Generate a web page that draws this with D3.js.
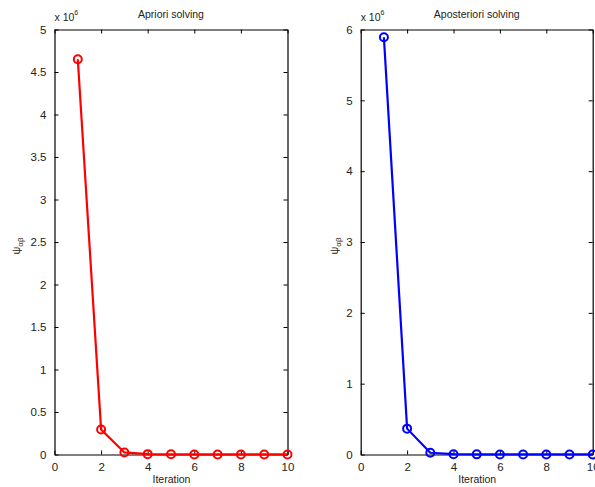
<!DOCTYPE html>
<html>
<head>
<meta charset="utf-8">
<script src="https://cdn.jsdelivr.net/npm/d3@7"></script>
<style>
  html, body { margin: 0; padding: 0; background: #fff; }
  svg { display: block; }
  text { font-family: "Liberation Sans", Arial, sans-serif; fill: #222; }
</style>
</head>
<body>
<svg id="chart" width="595" height="487"></svg>
<script>
// Iteration numbers shared by both panels
const iterations = [1, 2, 3, 4, 5, 6, 7, 8, 9, 10];
// Cost values per iteration (in units of 1e6)
const aprioriValues = [4.65, 0.295, 0.024, 0.004, 0.002, 0.001, 0.001, 0.001, 0.001, 0.001];
const aposterioriValues = [5.89, 0.365, 0.024, 0.004, 0.002, 0.001, 0.001, 0.001, 0.001, 0.001];
// Tick labels
const xTicks = [0, 2, 4, 6, 8, 10];
const aprioriYTicks = [0, 0.5, 1, 1.5, 2, 2.5, 3, 3.5, 4, 4.5, 5];
const aposterioriYTicks = [0, 1, 2, 3, 4, 5, 6];
const titles = ["Apriori solving", "Aposteriori solving"];

const svg = d3.select("#chart");

const panels = [
  { left: 54.5, right: 287.5, values: aprioriValues, yMax: 5, yTicks: aprioriYTicks, color: "#ff0000", title: titles[0], labelX: 20 },
  { left: 360.7, right: 592.7, values: aposterioriValues, yMax: 6, yTicks: aposterioriYTicks, color: "#0000ff", title: titles[1], labelX: 338 }
];
const plotTop = 29.5, plotBottom = 454.5, tickLen = 4;

panels.forEach(p => {
  const x = d3.scaleLinear().domain([0, 10]).range([p.left, p.right]);
  const y = d3.scaleLinear().domain([0, p.yMax]).range([plotBottom, plotTop]);
  const g = svg.append("g");

  // Axes: bottom/left labelled, top/right with inward ticks only
  const fmt = d => String(d);
  const bottomAxis = g.append("g").attr("transform", `translate(0,${plotBottom})`)
    .call(d3.axisBottom(x).tickValues(xTicks).tickFormat(fmt).tickSizeInner(-tickLen).tickSizeOuter(0).tickPadding(8));
  const topAxis = g.append("g").attr("transform", `translate(0,${plotTop})`)
    .call(d3.axisTop(x).tickValues(xTicks).tickFormat("").tickSizeInner(-tickLen).tickSizeOuter(0));
  const leftAxis = g.append("g").attr("transform", `translate(${p.left},0)`)
    .call(d3.axisLeft(y).tickValues(p.yTicks).tickFormat(fmt).tickSizeInner(-tickLen).tickSizeOuter(0).tickPadding(8));
  const rightAxis = g.append("g").attr("transform", `translate(${p.right},0)`)
    .call(d3.axisRight(y).tickValues(p.yTicks).tickFormat("").tickSizeInner(-tickLen).tickSizeOuter(0));

  [bottomAxis, topAxis, leftAxis, rightAxis].forEach(a => {
    a.select(".domain").attr("stroke", "#000").attr("stroke-width", 1.2);
    a.selectAll(".tick line").attr("stroke", "#000").attr("stroke-width", 1);
    a.selectAll(".tick text").attr("font-size", 11.5).attr("fill", "#222")
      .attr("font-family", "Liberation Sans, Arial, sans-serif");
  });

  // Series line and circle markers
  const pts = iterations.map((it, i) => [it, p.values[i]]);
  g.append("path")
    .datum(pts)
    .attr("fill", "none")
    .attr("stroke", p.color)
    .attr("stroke-width", 2.2)
    .attr("d", d3.line().x(d => x(d[0])).y(d => y(d[1])));
  g.selectAll("circle.m").data(pts).join("circle")
    .attr("class", "m")
    .attr("cx", d => x(d[0]))
    .attr("cy", d => y(d[1]))
    .attr("r", 4)
    .attr("fill", "none")
    .attr("stroke", p.color)
    .attr("stroke-width", 2);

  // Title
  g.append("text")
    .attr("x", (p.left + p.right) / 2)
    .attr("y", 18)
    .attr("text-anchor", "middle")
    .attr("font-size", 10.5)
    .text(p.title);

  // Exponent note
  const ex = g.append("text").attr("x", p.left).attr("y", 21).attr("font-size", 10.5);
  ex.append("tspan").text("x 10");
  ex.append("tspan").attr("dy", -6).attr("font-size", 7).text("6");

  // X label
  g.append("text")
    .attr("x", (p.left + p.right) / 2 + 0.5)
    .attr("y", 483)
    .attr("text-anchor", "middle")
    .attr("font-size", 10.5)
    .text("Iteration");

  // Y label: psi with subscript alpha-beta
  const yl = g.append("text")
    .attr("transform", `translate(${p.labelX},${(plotTop + plotBottom) / 2 + 4}) rotate(-90)`)
    .attr("text-anchor", "middle")
    .attr("font-size", 11);
  yl.append("tspan").text("ψ");
  yl.append("tspan").attr("dy", 3).attr("font-size", 8).text("αβ");
});
</script>
</body>
</html>
